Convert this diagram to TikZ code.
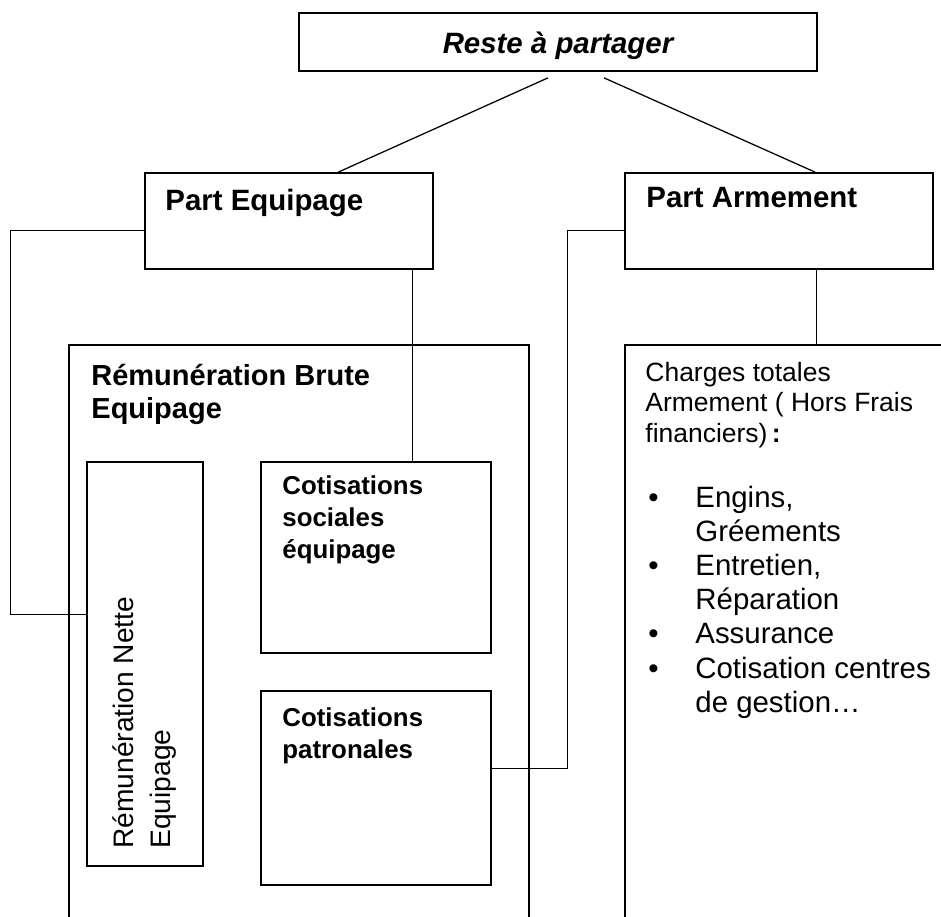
\documentclass[tikz,border=0pt]{standalone}
\usepackage{fontspec}
\setmainfont{Liberation Sans}
\usetikzlibrary{fit,calc}

\tikzset{
  box/.style={draw, line width=0.8pt, inner sep=0pt},
  wire/.style={line width=0.6pt},
  lbl/.style={inner sep=0pt, anchor=base west, align=left},
}

\begin{document}
\begin{tikzpicture}[x=0.476pt,y=-0.476pt]
\useasboundingbox (0,0) rectangle (941,916);
\clip (0,0) rectangle (941,916);

% Boxes
\node[box, fit={(299,13) (817,71)}] (reste) {};
\node[box, fit={(145,173) (433,269)}] (peq) {};
\node[box, fit={(625,173) (933,269)}] (parm) {};
\node[box, fit={(69,345) (529,960)}] (rbrute) {};
\node[box, fit={(87,462) (203,866)}] (rnette) {};
\node[box, fit={(261,462) (491,653)}] (csoc) {};
\node[box, fit={(261,691) (491,885)}] (cpat) {};
\node[box, fit={(625,345) (990,960)}] (charges) {};

% Text Nodes (multi-line: placed at the baseline of the last line)
\node[lbl, anchor=base, font=\fontsize{14}{17}\selectfont\bfseries\itshape] (restetxt) at (558,53) {Reste à partager};
\node[lbl, font=\fontsize{14}{17}\selectfont\bfseries] (peqtxt) at (165,210) {Part Equipage};
\node[lbl, font=\fontsize{14}{17}\selectfont\bfseries] (parmtxt) at (646,207) {Part Armement};
\node[lbl, font=\fontsize{13.8}{15.7}\selectfont\bfseries] (rbtxt) at (91,418) {Rémunération Brute\\Equipage};
\node[lbl, font=\fontsize{12.3}{15}\selectfont\bfseries] (cstxt) at (282,558) {Cotisations\\sociales\\équipage};
\node[lbl, font=\fontsize{12.3}{15}\selectfont\bfseries] (cptxt) at (282,758) {Cotisations\\patronales};
\node[lbl, rotate=90, font=\fontsize{13.4}{17.6}\selectfont] (rntxt) at (170,849) {Rémunération Nette\\Equipage};
\node[lbl, font=\fontsize{12.6}{14.3}\selectfont] (chtxt) at (645,442) {Charges totales\\Armement ( Hors Frais\\financiers)\,\textbf{:}};
\node[lbl, font=\fontsize{14}{16.3}\selectfont] (chlist) at (645,507) {%
  \begin{tabular}[t]{@{}p{23.8pt}@{}l@{}}
  \hspace*{1.4pt}\textbullet & Engins,\\
              & Gréements\\
  \hspace*{1.4pt}\textbullet & Entretien,\\
              & Réparation\\
  \hspace*{1.4pt}\textbullet & Assurance\\
  \hspace*{1.4pt}\textbullet & Cotisation centres\\
              & de gestion…
  \end{tabular}};

% Connectors
\coordinate (r1) at ($(reste.south)+(-10,6)$);
\coordinate (r2) at ($(reste.south)+(46,6)$);
\coordinate (peqb) at ($(peq.south west)+(268,0)$);
\coordinate (parmb) at ($(parm.south west)+(192,0)$);
\draw[wire] (r1) -- ($(peq.north west)+(194,0)$);
\draw[wire] (r2) -- ($(parm.north west)+(191,0)$);
\draw[wire] ($(peq.north west)+(0,58)$) -- ++(-134,0) |- ($(rnette.north west)+(0,153)$);
\draw[wire] (peqb) -- (peqb |- csoc.north);
\draw[wire] ($(cpat.north east)+(0,78)$) -- ++(76,0) |- ($(parm.north west)+(0,58)$);
\draw[wire] (parmb) -- (parmb |- charges.north);

\end{tikzpicture}
\end{document}
